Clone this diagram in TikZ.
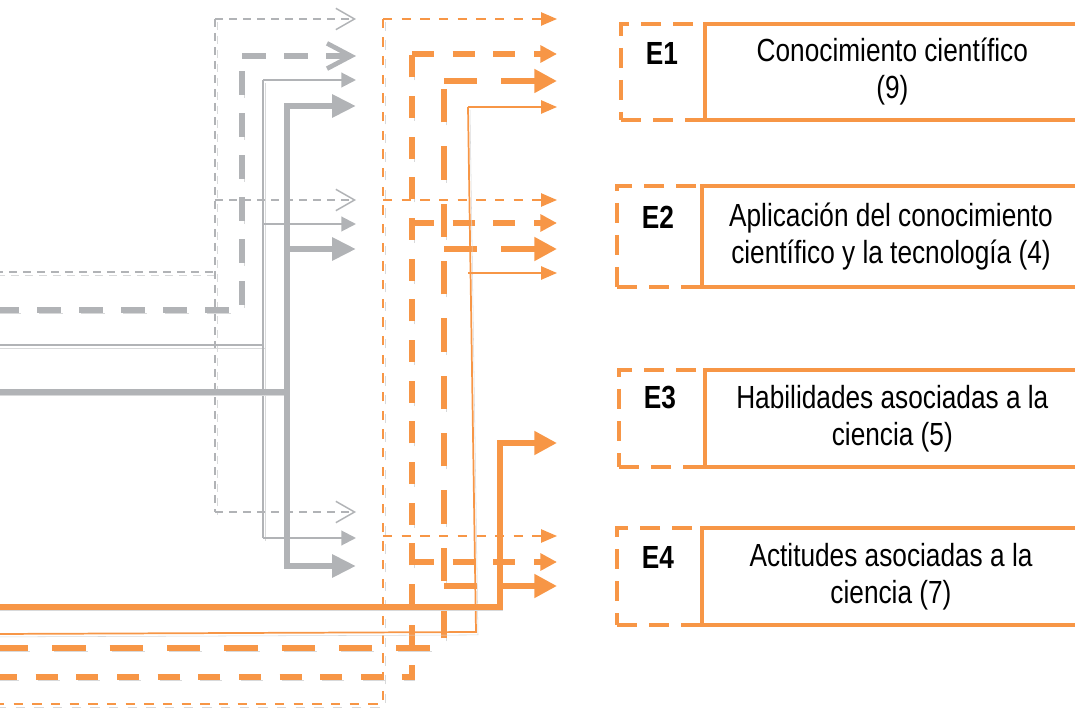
\documentclass[tikz,border=0pt]{standalone}
\usepackage{fontspec}
\setmainfont[FakeStretch=0.82]{Liberation Sans}
\usetikzlibrary{arrows.meta}
\definecolor{ejeorange}{RGB}{247,150,70}
\definecolor{ejegray}{RGB}{177,179,182}
\definecolor{ejeshadow}{RGB}{216,217,218}

\tikzset{
  shadowed/.style={preaction={draw=ejeshadow,-,#1,transform canvas={shift={(1.5pt,-2.2pt)}}}},
  shadowed/.default={},
  gdashthin/.style={dash pattern=on 6pt off 4.5pt},
  gdashthick/.style={dash pattern=on 18pt off 13.5pt},
  odashthin/.style={dash pattern=on 7pt off 7pt},
  odashmid/.style={dash pattern=on 16.5pt off 14pt},
  odashthick/.style={dash pattern=on 25pt off 18pt},
  gthindash/.style={draw=ejegray,line width=1.1pt,gdashthin},
  gthickdash/.style={draw=ejegray,line width=4.8pt,gdashthick},
  gthin/.style={draw=ejegray,line width=1.5pt},
  gthick/.style={draw=ejegray,line width=5.2pt,line cap=rect},
  othindash/.style={draw=ejeorange,line width=1.1pt,odashthin},
  omiddash/.style={draw=ejeorange,line width=4.5pt,odashmid},
  othickdash/.style={draw=ejeorange,line width=5.2pt,odashthick},
  othin/.style={draw=ejeorange,line width=1.3pt},
  othick/.style={draw=ejeorange,line width=5.2pt,line cap=rect},
  gopen/.style={-{Straight Barb[length=14pt,width=16pt]}},
  gopenbig/.style={-{Straight Barb[length=18pt,width=19pt,line width=3.5pt]}},
  gtip/.style={-{Triangle[length=11pt,width=11pt]}},
  gtipbig/.style={-{Triangle[length=18pt,width=16.5pt]}},
  otip/.style={-{Triangle[length=12pt,width=10pt]}},
  otipmid/.style={-{Triangle[length=12.5pt,width=12.5pt]}},
  otipbig/.style={-{Triangle[length=17pt,width=17pt]}},
  tagbox/.style={draw=ejeorange,line width=3pt,dash pattern=on 15pt off 9pt,
    anchor=north west,inner sep=0pt},
  textbox/.style={draw=ejeorange,line width=3pt,anchor=north west,align=center,
    inner sep=0pt,font=\fontsize{24pt}{27.75pt}\selectfont},
  tagtext/.style={font=\fontsize{24pt}{27.75pt}\selectfont\bfseries},
}

\begin{document}
\begin{tikzpicture}[x=0.75pt,y=-0.75pt]
\useasboundingbox (0,0) rectangle (1075,709);

\foreach \n/\y in {ga1/19,ga2/200,ga4/512,gb1/56,gc1/80,gc2/224,gc4/538,gd1/106,gd2/249,gd4/566}
  \coordinate (\n) at (356,\y);
\foreach \n/\y in {oa1/19,oa2/200,oa4/536,ob1/54,ob2/223,ob4/562,oc1/81,oc2/249,oc4/586,od1/107,od2/273,oe3/443}
  \coordinate (\n) at (557,\y);

% gray routes
\draw[gthindash,shadowed=gdashthin] (-5,272) -- (215,272) (215,19) coordinate (gat) -- (215,512);
\draw[gthickdash,shadowed=gdashthick] (-5,310) -| (242,56) coordinate (gbt);
\draw[gthin,shadowed] (-5,345) -- (263,345) (263,80) coordinate (gct) -- (263,538);
\draw[gthick,shadowed] (-5,392) -- (287,392) (287,106) coordinate (gdt) -- (287,566);
\foreach \e in {1,2,4} \draw[gthindash,gopen] (gat |- ga\e) -- (ga\e);
\draw[gthickdash,gopenbig] (gbt) -- (gb1);
\foreach \e in {1,2,4} \draw[gthin,gtip] (gct |- gc\e) -- (gc\e);
\foreach \e in {1,2,4} \draw[gthick,gtipbig] (gdt |- gd\e) -- (gd\e);

% orange routes
\draw[othindash,shadowed=odashthin] (-5,704) -| (383,19) coordinate (oat);
\foreach \e in {1,2,4} \draw[othindash,otip] (oat |- oa\e) -- (oa\e);
\draw[omiddash,shadowed=odashmid] (-5,677) -| (412,54) coordinate (obt);
\foreach \e in {1,2,4} \draw[omiddash,otipmid] (obt |- ob\e) -- (ob\e);
\draw[othickdash,shadowed=odashthick] (-5,648) -| (444,81) coordinate (oct);
\foreach \e in {1,2,4} \draw[othickdash,otipbig] (oct |- oc\e) -- (oc\e);
\draw[othin,shadowed] (-5,634) -- (476,632) -- (468,107) coordinate (odt);
\foreach \e in {1,2} \draw[othin,otip] (odt |- od\e) -- (od\e);
\draw[othick,shadowed] (-5,607) -| (500,443) coordinate (oet);
\draw[othick,otipbig] (oet) -- (oe3);

% boxes
\node[tagbox,minimum width=63pt,minimum height=72pt] (e1tag) at (619,22) {};
\node[textbox,minimum width=281pt,minimum height=72pt] (e1box) at (703,22) {Conocimiento científico\\(9)};
\node[tagtext] (e1lbl) at (662,53) {E1};

\node[tagbox,minimum width=63.75pt,minimum height=75.75pt] (e2tag) at (615,184) {};
\node[textbox,minimum width=283.5pt,minimum height=75.75pt] (e2box) at (700,184) {Aplicación del conocimiento\\científico y la tecnología (4)};
\node[tagtext] (e2lbl) at (658,217) {E2};

\node[tagbox,minimum width=64.5pt,minimum height=72.75pt] (e3tag) at (617,368) {};
\node[textbox,minimum width=281pt,minimum height=72.75pt] (e3box) at (703,368) {Habilidades asociadas a la\\ciencia (5)};
\node[tagtext] (e3lbl) at (660,398) {E3};

\node[tagbox,minimum width=63.75pt,minimum height=72.75pt] (e4tag) at (615,526) {};
\node[textbox,minimum width=283.5pt,minimum height=72.75pt] (e4box) at (700,526) {Actitudes asociadas a la\\ciencia (7)};
\node[tagtext] (e4lbl) at (658,557) {E4};
\end{tikzpicture}
\end{document}
